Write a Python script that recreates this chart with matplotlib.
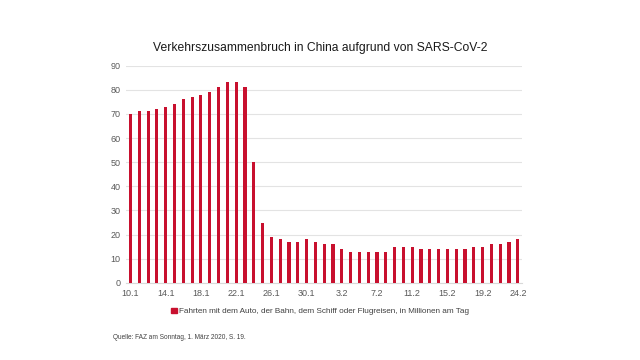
import matplotlib
matplotlib.use("Agg")
import matplotlib.pyplot as plt
from matplotlib.patches import Patch

dates = ["10.1", "11.1", "12.1", "13.1", "14.1", "15.1", "16.1", "17.1", "18.1", "19.1",
         "20.1", "21.1", "22.1", "23.1", "24.1", "25.1", "26.1", "27.1", "28.1", "29.1",
         "30.1", "31.1", "1.2", "2.2", "3.2", "4.2", "5.2", "6.2", "7.2", "8.2",
         "9.2", "10.2", "11.2", "12.2", "13.2", "14.2", "15.2", "16.2", "17.2", "18.2",
         "19.2", "20.2", "21.2", "22.2", "24.2"]
values = [70, 71, 71, 72, 73, 74, 76, 77, 78, 79,
          81, 83, 83, 81, 50, 25, 19, 18, 17, 17,
          18, 17, 16, 16, 14, 13, 13, 13, 13, 13,
          15, 15, 15, 14, 14, 14, 14, 14, 14, 15,
          15, 16, 16, 17, 18]
yticks = [0, 10, 20, 30, 40, 50, 60, 70, 80, 90]

title = "Verkehrszusammenbruch in China aufgrund von SARS-CoV-2"
legend_label = "Fahrten mit dem Auto, der Bahn, dem Schiff oder Flugreisen, in Millionen am Tag"
source = "Quelle: FAZ am Sonntag, 1. März 2020, S. 19."

plt.rcParams['font.family'] = ['Liberation Sans', 'DejaVu Sans']
bar_color = "#C8102E"

fig = plt.figure(figsize=(6.4, 3.6), dpi=100)
ax = fig.add_axes([0.197, 0.214, 0.619, 0.604])
x = list(range(len(values)))
ax.bar(x, values, width=0.36, color=bar_color, zorder=3)
ax.set_xlim(-0.5, len(values) - 0.5)
ax.set_ylim(0, 90)
ax.set_yticks(yticks)
tick_idx = list(range(0, len(values), 4))
ax.set_xticks(tick_idx)
ax.set_xticklabels([dates[i] for i in tick_idx])
ax.grid(axis='y', color='#E3E3E3', linewidth=0.8, zorder=0)
for s in ['top', 'right', 'left']:
    ax.spines[s].set_visible(False)
ax.spines['bottom'].set_color('#D9D9D9')
ax.tick_params(axis='both', length=0, labelsize=6.5, colors='#595959', pad=4)

fig.text(0.5, 0.868, title, ha='center', va='center', fontsize=8.7, color='#1a1a1a')
fig.legend(handles=[Patch(color=bar_color)], labels=[legend_label],
           loc='center', bbox_to_anchor=(0.5, 0.135), frameon=False, fontsize=5.9,
           handlelength=0.7, handleheight=0.7, handletextpad=0.3, labelcolor='#404040')
fig.text(0.177, 0.062, source, ha='left', va='center', fontsize=4.7, color='#404040')

fig.savefig("out.png", dpi=100)
